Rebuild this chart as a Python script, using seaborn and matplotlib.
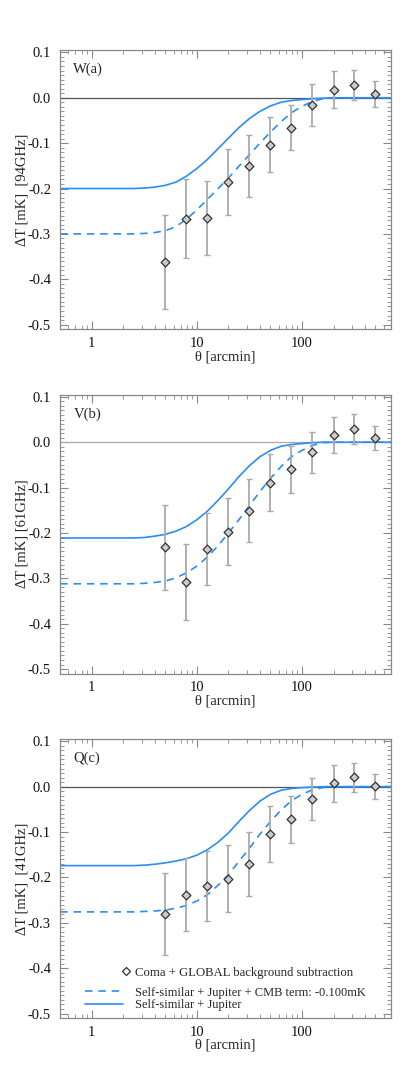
import numpy as np
import pandas as pd
import seaborn as sns
import matplotlib.pyplot as plt
from matplotlib.ticker import MultipleLocator, FixedLocator, NullFormatter
from matplotlib.lines import Line2D

sns.set_theme(style="ticks")
plt.rcParams['font.family'] = ['Liberation Serif', 'DejaVu Serif']

# data points (arcmin)
theta = [5.0, 7.9, 12.6, 20.0, 31.6, 50.1, 79.4, 126, 200, 316, 501]

w_dt = [-0.362, -0.267, -0.265, -0.185, -0.150, -0.103, -0.066, -0.016, 0.018, 0.029, 0.008]
w_err = [0.103, 0.087, 0.081, 0.073, 0.069, 0.060, 0.050, 0.046, 0.040, 0.033, 0.028]
v_dt = [-0.232, -0.308, -0.235, -0.197, -0.151, -0.089, -0.060, -0.022, 0.016, 0.029, 0.009]
v_err = [0.094, 0.084, 0.079, 0.073, 0.069, 0.062, 0.051, 0.045, 0.039, 0.033, 0.027]
q_dt = [-0.280, -0.238, -0.219, -0.203, -0.171, -0.104, -0.072, -0.027, 0.007, 0.021, 0.001]
q_err = [0.090, 0.081, 0.078, 0.074, 0.070, 0.062, 0.052, 0.046, 0.040, 0.032, 0.028]

# model curves
theta_curve = [0.5, 1.0, 2.0, 2.51, 3.16, 3.98, 5.01, 6.31, 7.94, 10.0, 12.6, 15.8, 20.0,
               25.1, 31.6, 39.8, 50.1, 63.1, 79.4, 100, 126, 158, 200, 316, 708]
w_solid = [-0.200, -0.200, -0.200, -0.200, -0.199, -0.197, -0.193, -0.186, -0.173, -0.156, -0.136, -0.113, -0.089,
           -0.066, -0.046, -0.030, -0.018, -0.010, -0.006, -0.004, -0.002, -0.001, 0.0, 0.0, 0.0]
w_dash = [-0.300, -0.300, -0.300, -0.300, -0.299, -0.297, -0.293, -0.284, -0.268, -0.247, -0.224, -0.201, -0.177,
          -0.151, -0.126, -0.100, -0.076, -0.053, -0.033, -0.019, -0.008, -0.002, 0.0, 0.0, 0.0]
v_solid = [-0.211, -0.211, -0.211, -0.211, -0.210, -0.207, -0.203, -0.196, -0.186, -0.171, -0.152, -0.129, -0.103,
           -0.076, -0.052, -0.032, -0.018, -0.009, -0.005, -0.003, -0.001, 0.0, 0.0, 0.0, 0.0]
v_dash = [-0.312, -0.312, -0.312, -0.312, -0.311, -0.309, -0.306, -0.299, -0.288, -0.273, -0.253, -0.229, -0.200,
          -0.171, -0.140, -0.109, -0.080, -0.054, -0.032, -0.018, -0.007, -0.001, 0.0, 0.0, 0.0]
q_solid = [-0.174, -0.174, -0.174, -0.174, -0.173, -0.171, -0.168, -0.164, -0.159, -0.151, -0.139, -0.123, -0.102,
           -0.077, -0.053, -0.032, -0.017, -0.008, -0.004, -0.002, -0.001, 0.0, 0.0, 0.0, 0.0]
q_dash = [-0.276, -0.276, -0.276, -0.276, -0.275, -0.274, -0.272, -0.268, -0.262, -0.252, -0.238, -0.218, -0.194,
          -0.165, -0.136, -0.105, -0.077, -0.052, -0.031, -0.017, -0.007, -0.002, 0.0, 0.0, 0.0]

panels = [('W(a)', '94GHz', '  ', '#555555', w_dt, w_err, w_solid, w_dash),
          ('V(b)', '61GHz', ' ', '#aaaaaa', v_dt, v_err, v_solid, v_dash),
          ('Q(c)', '41GHz', '  ', '#555555', q_dt, q_err, q_solid, q_dash)]

blue = '#2b8ef0'
dash_style = (0, (4.5, 3.5))
fig = plt.figure(figsize=(4.09, 10.9), dpi=100)
bottoms = [0.698, 0.382, 0.066]

for i, (tag, freq, gap, zcol, dt, err, solid, dash) in enumerate(panels):
    ax = fig.add_axes([0.147, bottoms[i], 0.809, 0.256])
    ax.set_xscale('log')
    ax.axhline(0, color=zcol, lw=0.9, zorder=1)
    cdf = pd.DataFrame({'theta': theta_curve, 'solid': solid, 'dash': dash})
    sns.lineplot(data=cdf, x='theta', y='dash', ax=ax, color=blue, lw=1.2,
                 linestyle=dash_style, zorder=2)
    sns.lineplot(data=cdf, x='theta', y='solid', ax=ax, color=blue, lw=1.2, zorder=2)
    ax.errorbar(theta, dt, yerr=err, fmt='none', ecolor='#aaaaaa', elinewidth=1.3,
                capsize=2.5, capthick=1.0, zorder=3)
    sns.scatterplot(x=theta, y=dt, ax=ax, marker='D', s=20, color='#cccccc',
                    edgecolor='#333333', linewidth=0.9, zorder=4)
    ax.set_xlim(0.5, 705)
    ax.set_ylim(-0.51, 0.105)
    ax.yaxis.set_major_locator(FixedLocator([-0.5, -0.4, -0.3, -0.2, -0.1, 0.0, 0.1]))
    ax.yaxis.set_minor_locator(MultipleLocator(0.01))
    ax.set_yticklabels(['-0.5', '-0.4', '-0.3', '-0.2', '-0.1', '0.0', '0.1'])
    ax.xaxis.set_major_locator(FixedLocator([1, 10, 100]))
    ax.set_xticklabels(['1', '10', '100'])
    ax.xaxis.set_minor_formatter(NullFormatter())
    ax.tick_params(which='both', direction='in', top=True, right=True, colors='#888888',
                   labelcolor='#111111', labelsize=10.5)
    ax.tick_params(which='major', length=6, width=0.8)
    ax.tick_params(which='minor', length=3, width=0.6)
    ax.tick_params(axis='y', which='major', pad=6.5)
    ax.tick_params(axis='x', which='major', pad=5.5)
    for s in ax.spines.values():
        s.set_color('#888888')
        s.set_linewidth(0.9)
    ax.set_xlabel('θ [arcmin]', fontsize=10.5)
    ax.xaxis.set_label_coords(0.5, -0.075)
    ax.set_ylabel('ΔT [mK]' + gap + '[' + freq + ']', fontsize=10.5)
    ax.yaxis.set_label_coords(-0.097, 0.5)
    ax.text(0.04, 0.955, tag, transform=ax.transAxes, fontsize=10.5, va='top', ha='left')

    if i == 2:
        h1 = Line2D([], [], marker='D', ls='none', markersize=4.5, markerfacecolor='white',
                    markeredgecolor='#333333', markeredgewidth=0.9)
        leg1 = ax.legend([h1], ['Coma + GLOBAL background subtraction'], loc='center left',
                         bbox_to_anchor=(0.184, 0.162), frameon=False, fontsize=9.2,
                         handlelength=0.8, handletextpad=0.3, borderaxespad=0, borderpad=0)
        ax.add_artist(leg1)
        h2 = Line2D([], [], color=blue, lw=1.2, ls=dash_style)
        h3 = Line2D([], [], color=blue, lw=1.2)
        ax.legend([h2, h3], ['Self-similar + Jupiter + CMB term: -0.100mK', 'Self-similar + Jupiter'],
                  loc='center left', bbox_to_anchor=(0.0755, 0.068), frameon=False, fontsize=9.0,
                  handlelength=3.05, handletextpad=0.95, labelspacing=0.05, borderaxespad=0,
                  borderpad=0)

fig.savefig('out.png', dpi=100)
